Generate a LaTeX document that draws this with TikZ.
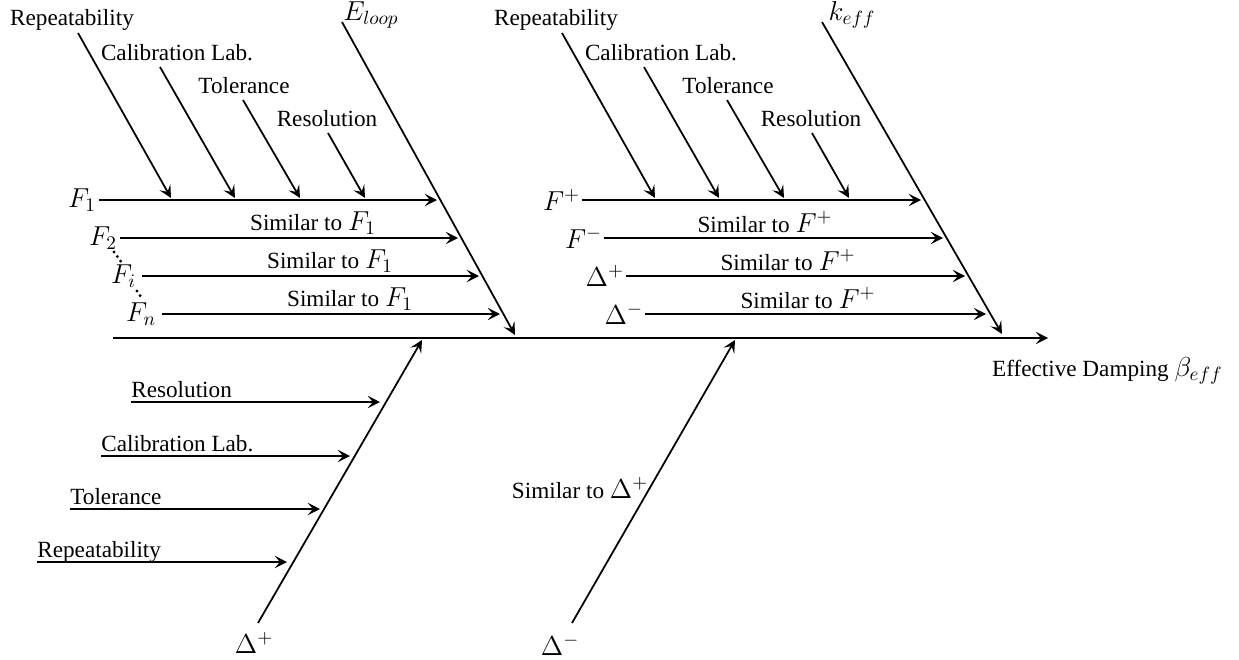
\RequirePackage{fix-cm}
\documentclass[tikz,border=0pt]{standalone}
\usepackage{fontspec}
\setmainfont{Liberation Serif}
\usetikzlibrary{arrows.meta, positioning}
% simboli un po' piu' grandi del testo
\newcommand{\simb}[1]{{\fontsize{15.6}{18}\selectfont$#1$}}
\tikzset{
  % linea principale (effetto)
  spina/.style={line width=1pt, -{Stealth[length=7pt, width=7pt, inset=3pt]}},
  % ramo che porta una causa
  osso/.style={line width=1pt, -{Stealth[length=7pt, width=7pt, inset=3pt]}},
  % puntini tra le forze
  puntini/.style={line width=1.8pt, dash pattern=on 0pt off 3.2pt, line cap=round},
  % etichette
  lbl/.style={font=\fontsize{13.2}{15}\selectfont, inner sep=1pt},
}
\begin{document}
\begin{tikzpicture}[x=0.02cm, y=-0.02cm, every node/.style={lbl}]
  \useasboundingbox (0,0) rectangle (1239,659);
  % spina principale
  \coordinate (coda) at (113,338);
  \coordinate (testa) at (1048,338);
  \draw[spina] (coda) -- (testa);
  \node[anchor=west] (effetto) at (990,371) {Effective Damping \simb{\beta_{eff}}};
  % rami principali in alto
  \node (Eloop) at (371,15) {\simb{E_{loop}}};
  \coordinate (Eloop s) at (342,22);
  \coordinate (Eloop e) at (515,335);
  \draw[osso] (Eloop s) -- (Eloop e);
  \node (keff) at (852,15) {\simb{k_{eff}}};
  \coordinate (keff s) at (822,22);
  \coordinate (keff e) at (1002,334);
  \draw[osso] (keff s) -- (keff e);
  % cause sulla prima forza (uguali nei due gruppi)
  \foreach \grp/\dx in {a/0, b/484} {
    \foreach \n/\txt/\lx/\ly/\sx/\sy/\ex in {rep/Repeatability/72/20/78/33/171,
        cal/Calibration Lab./177/53/160/67/235, tol/Tolerance/244/86/243/100/300,
        res/Resolution/327/119/328/133/365} {
      \node (\grp\n) at (\lx+\dx,\ly) {\txt};
      \coordinate (\grp\n s) at (\sx+\dx,\sy);
      \coordinate (\grp\n e) at (\ex+\dx,198);
      \draw[osso] (\grp\n s) -- (\grp\n e);
    }
  }
  % forze del gruppo E_loop
  \foreach \y/\lx/\xs/\xe/\f [count=\i] in {200/98/99/437/F_1, 238/119/120/458/F_2,
      276/138/142/479/F_i, 314/158/162/500/F_n} {
    \node[anchor=east] (f\i) at (\lx,\y) {\simb{\f}};
    \coordinate (f\i s) at (\xs,\y);
    \coordinate (f\i e) at (\xe,\y);
    \draw[osso] (f\i s) -- (f\i e);
  }
  \foreach \i/\x/\y in {2/313/223, 3/330/261, 4/350/299}
    \node (simA\i) at (\x,\y) {Similar to \simb{F_1}};
  \coordinate (d1) at (114,252);
  \coordinate (d2) at (122,263);
  \coordinate (d3) at (137,291);
  \coordinate (d4) at (143,300);
  \draw[puntini] (d1) -- (d2);
  \draw[puntini] (d3) -- (d4);
  % forze del gruppo k_eff
  \foreach \y/\xs/\xe/\f [count=\i] in {200/582/921/F^+, 238/604/943/F^-,
      276/626/965/\Delta^+, 314/645/986/\Delta^-} {
    \node[anchor=east] (g\i) at (\xs,\y) {\simb{\f}};
    \coordinate (g\i e) at (\xe,\y);
    \draw[osso] (g\i.east) -- (g\i e);
  }
  \foreach \i/\x/\y in {2/765/222, 3/788/260, 4/808/298}
    \node (simB\i) at (\x,\y) {Similar to \simb{F^+}};
  % ramo Delta+ in basso
  \node (dpiu) at (254,643) {\simb{\Delta^+}};
  \coordinate (dpiu s) at (258,623);
  \coordinate (dpiu e) at (422,340);
  \draw[osso] (dpiu s) -- (dpiu e);
  \foreach \y/\xs/\xe/\n/\txt in {402/131/380/res/Resolution,
      456/101/350/cal/Calibration Lab., 509/70/320/tol/Tolerance,
      562/37/287/rep/Repeatability} {
    \coordinate (c\n s) at (\xs,\y);
    \coordinate (c\n e) at (\xe,\y);
    \draw[osso] (c\n s) -- (c\n e);
    \node[anchor=base west, inner sep=0pt] (c\n) at (\xs,\y-5) {\txt};
  }
  % ramo Delta- in basso
  \node (dmeno) at (560,645) {\simb{\Delta^-}};
  \coordinate (dmeno s) at (572,623);
  \coordinate (dmeno e) at (735,340);
  \draw[osso] (dmeno s) -- (dmeno e);
  \node (simD) at (580,488) {Similar to \simb{\Delta^+}};
\end{tikzpicture}
\end{document}
